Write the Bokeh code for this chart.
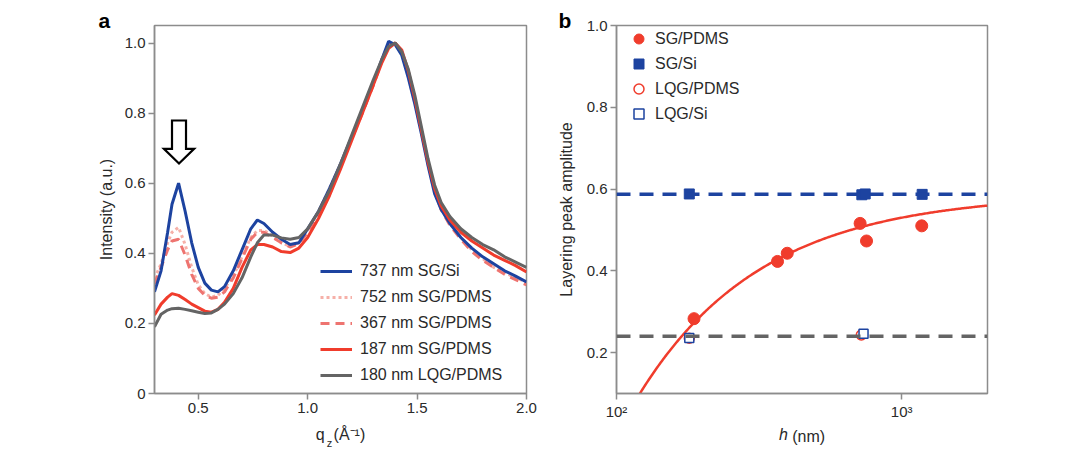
import numpy as np
from bokeh.plotting import figure
from bokeh.layouts import row
from bokeh.models import (Legend, LegendItem, Span, FixedTicker, NumeralTickFormatter, Title,
                          LinearAxis, Range1d, LinearScale)
from bokeh.embed import file_html
from bokeh.resources import INLINE

# ---------------- Panel a data ----------------
q = [0.30, 0.33, 0.36, 0.38, 0.41, 0.44, 0.47, 0.50, 0.53, 0.56, 0.59, 0.62, 0.66, 0.70,
     0.74, 0.77, 0.80, 0.84, 0.88, 0.92, 0.96, 1.00, 1.05, 1.10, 1.15, 1.20, 1.25, 1.30,
     1.34, 1.37, 1.40, 1.43, 1.46, 1.49, 1.52, 1.55, 1.58, 1.61, 1.65, 1.70, 1.75, 1.80,
     1.85, 1.90, 1.95, 2.00]

sg_si_737 = [0.29, 0.35, 0.46, 0.54, 0.60, 0.52, 0.43, 0.36, 0.315, 0.295, 0.29, 0.305, 0.35, 0.41,
             0.47, 0.495, 0.485, 0.46, 0.44, 0.425, 0.43, 0.47, 0.52, 0.585, 0.655, 0.73, 0.805, 0.885,
             0.955, 1.005, 0.995, 0.965, 0.90, 0.825, 0.74, 0.65, 0.57, 0.525, 0.485, 0.445, 0.415, 0.39,
             0.37, 0.35, 0.335, 0.318]

sg_pdms_752 = [0.328, 0.37, 0.43, 0.46, 0.474, 0.425, 0.36, 0.31, 0.285, 0.275, 0.28, 0.30, 0.335, 0.39,
               0.445, 0.465, 0.465, 0.45, 0.43, 0.42, 0.43, 0.465, 0.52, 0.585, 0.655, 0.73, 0.805, 0.885,
               0.955, 1.0, 1.0, 0.97, 0.905, 0.83, 0.745, 0.655, 0.575, 0.525, 0.485, 0.445, 0.41, 0.385,
               0.36, 0.345, 0.33, 0.318]

sg_pdms_367 = [0.313, 0.36, 0.41, 0.435, 0.44, 0.395, 0.34, 0.30, 0.28, 0.272, 0.275, 0.29, 0.33, 0.385,
               0.44, 0.46, 0.46, 0.445, 0.43, 0.418, 0.428, 0.46, 0.515, 0.58, 0.65, 0.725, 0.80, 0.88,
               0.95, 0.995, 1.0, 0.975, 0.91, 0.835, 0.75, 0.66, 0.58, 0.525, 0.48, 0.44, 0.405, 0.38,
               0.36, 0.34, 0.325, 0.31]

sg_pdms_187 = [0.224, 0.255, 0.275, 0.285, 0.28, 0.268, 0.255, 0.245, 0.235, 0.232, 0.24, 0.26, 0.30, 0.36,
               0.41, 0.425, 0.425, 0.418, 0.405, 0.402, 0.415, 0.445, 0.50, 0.565, 0.64, 0.72, 0.80, 0.88,
               0.945, 0.985, 1.0, 0.98, 0.92, 0.84, 0.75, 0.66, 0.585, 0.535, 0.495, 0.46, 0.435, 0.415,
               0.395, 0.38, 0.365, 0.347]

lqg_pdms_180 = [0.19, 0.226, 0.238, 0.242, 0.243, 0.24, 0.236, 0.232, 0.228, 0.23, 0.24, 0.255, 0.285, 0.33,
                0.39, 0.43, 0.452, 0.452, 0.444, 0.44, 0.445, 0.47, 0.52, 0.58, 0.655, 0.735, 0.815, 0.895,
                0.955, 0.99, 1.0, 0.975, 0.925, 0.85, 0.76, 0.67, 0.595, 0.545, 0.505, 0.47, 0.445, 0.425,
                0.41, 0.39, 0.375, 0.36]

series_labels = ["737 nm SG/Si", "752 nm SG/PDMS", "367 nm SG/PDMS", "187 nm SG/PDMS", "180 nm LQG/PDMS"]

# arrow marker (panel a)
arrow_q = 0.412
arrow_top, arrow_neck, arrow_tip = 0.779, 0.698, 0.656
arrow_shaft_hw, arrow_head_hw = 0.032, 0.069

# ---------------- Panel b data ----------------
h_sg_pdms = [187, 367, 397, 715, 753, 1176]
a_sg_pdms = [0.283, 0.423, 0.443, 0.516, 0.473, 0.510]
h_sg_si = [180, 725, 745, 1180]
a_sg_si = [0.588, 0.586, 0.588, 0.587]
h_lqg_pdms = [180, 722]
a_lqg_pdms = [0.235, 0.243]
h_lqg_si = [180, 735]
a_lqg_si = [0.236, 0.246]
si_level = 0.587
lqg_level = 0.240
# model fit for SG/PDMS: A(h) = A_inf * (1 - h_c / h)
fit_A_inf = 0.589
fit_h_c = 100.3

# ---------------- Styling ----------------
BLUE = "#1d43a0"
RED = "#f03c2c"
PINK_LIGHT = "#f6b0a8"
PINK = "#ee7470"
GRAY = "#646464"
AXIS = "#8c8c8c"
TXT = "#2a2a2a"
FONT = "Liberation Sans"
NB = "\u00a0"


def style(p):
    p.xgrid.visible = False
    p.ygrid.visible = False
    p.outline_line_color = AXIS
    p.outline_line_width = 1.5
    for ax in (p.xaxis[0], p.yaxis[0]):
        ax.axis_line_color = AXIS
        ax.axis_line_width = 1.5
        ax.major_tick_line_color = AXIS
        ax.major_tick_line_width = 1.5
        ax.major_tick_out = 6
        ax.major_tick_in = 0
        ax.minor_tick_line_color = None
        ax.major_label_text_font = FONT
        ax.major_label_text_font_size = "15px"
        ax.major_label_text_color = TXT
        ax.major_label_standoff = 3
        ax.axis_label_text_font = FONT
        ax.axis_label_text_font_size = "16px"
        ax.axis_label_text_font_style = "normal"
        ax.axis_label_text_color = TXT
    p.background_fill_color = "white"
    p.border_fill_color = "white"


def text_axis(p, pos, text, size, style_="normal", standoff=-9):
    """An axis with no line/ticks used only to place one piece of text below the frame."""
    ax = LinearAxis(x_range_name="px", ticker=FixedTicker(ticks=[pos]),
                    major_label_overrides={pos: text},
                    axis_line_color=None, major_tick_line_color=None, minor_tick_line_color=None,
                    major_tick_out=0, major_tick_in=0, major_label_standoff=standoff,
                    major_label_text_font=FONT, major_label_text_font_size=size,
                    major_label_text_font_style=style_, major_label_text_color=TXT)
    p.add_layout(ax, "below")


def panel_letter(p, letter, offset):
    p.add_layout(Title(text=letter, align="left", offset=offset, standoff=-12,
                       text_font=FONT, text_font_size="21px", text_font_style="bold",
                       text_color="black"), "above")


# ---------------- Panel a ----------------
p1 = figure(width=540, height=453, x_range=(0.3, 2.0), y_range=(0.0, 1.05),
            output_backend="svg", toolbar_location=None,
            min_border_left=154, min_border_right=14, min_border_top=25, min_border_bottom=57)
style(p1)
p1.extra_x_ranges = {"px": Range1d(0, 372)}
p1.extra_x_scales = {"px": LinearScale()}
p1.xaxis.ticker = FixedTicker(ticks=[0.5, 1.0, 1.5, 2.0])
p1.xaxis.formatter = NumeralTickFormatter(format="0.0")
p1.xaxis.axis_label = "q" + NB + NB + "(Å⁻¹)"
p1.xaxis.axis_label_standoff = 10
p1.yaxis.ticker = FixedTicker(ticks=[0.0, 0.2, 0.4, 0.6, 0.8, 1.0])
p1.yaxis.formatter = NumeralTickFormatter(format="0.0")
p1.yaxis.major_label_overrides = {0: "0"}
p1.yaxis.axis_label = "Intensity (a.u.)"
p1.yaxis.axis_label_standoff = 7

r752 = p1.line(q, sg_pdms_752, line_color=PINK_LIGHT, line_width=3, line_dash="3 3")
r367 = p1.line(q, sg_pdms_367, line_color=PINK, line_width=3, line_dash="9 6")
r737 = p1.line(q, sg_si_737, line_color=BLUE, line_width=3)
r187 = p1.line(q, sg_pdms_187, line_color=RED, line_width=3)
r180 = p1.line(q, lqg_pdms_180, line_color=GRAY, line_width=3)

ax_ = [arrow_q - arrow_shaft_hw, arrow_q + arrow_shaft_hw, arrow_q + arrow_shaft_hw,
       arrow_q + arrow_head_hw, arrow_q, arrow_q - arrow_head_hw, arrow_q - arrow_shaft_hw]
ay_ = [arrow_top, arrow_top, arrow_neck, arrow_neck, arrow_tip, arrow_neck, arrow_neck]
p1.patch(ax_, ay_, fill_color="white", line_color="black", line_width=2.2, line_join="miter")

leg1 = Legend(items=[LegendItem(label=series_labels[0], renderers=[r737]),
                     LegendItem(label=series_labels[1], renderers=[r752]),
                     LegendItem(label=series_labels[2], renderers=[r367]),
                     LegendItem(label=series_labels[3], renderers=[r187]),
                     LegendItem(label=series_labels[4], renderers=[r180])],
              location=(166, 8), padding=0, margin=0, spacing=6,
              glyph_width=32, glyph_height=20, label_height=20, label_standoff=8,
              background_fill_alpha=0, border_line_color=None,
              label_text_font=FONT, label_text_font_size="16px", label_text_color=TXT)
p1.add_layout(leg1)

text_axis(p1, 175, "z", "11px", standoff=-9)
panel_letter(p1, "a", -56)

# ---------------- Panel b ----------------
p2 = figure(width=539, height=453, x_axis_type="log", x_range=(100, 2000), y_range=(0.1, 1.0),
            output_backend="svg", toolbar_location=None,
            min_border_left=76, min_border_right=92, min_border_top=23, min_border_bottom=60)
style(p2)
p2.extra_x_ranges = {"px": Range1d(0, 371)}
p2.extra_x_scales = {"px": LinearScale()}
p2.xaxis.ticker = FixedTicker(ticks=[100, 1000])
p2.xaxis.major_label_overrides = {100: "10²", 1000: "10³"}
p2.xaxis.axis_label = NB + NB + NB + "(nm)"
p2.xaxis.axis_label_standoff = 5
p2.yaxis.ticker = FixedTicker(ticks=[0.2, 0.4, 0.6, 0.8, 1.0])
p2.yaxis.formatter = NumeralTickFormatter(format="0.0")
p2.yaxis.axis_label = "Layering peak amplitude"
p2.yaxis.axis_label_standoff = 9

p2.add_layout(Span(location=si_level, dimension="width", line_color=BLUE, line_width=3.5, line_dash="14 9"))
p2.add_layout(Span(location=lqg_level, dimension="width", line_color=GRAY, line_width=3.5, line_dash="14 9"))

h_fit = np.geomspace(110, 2000, 300)
a_fit = fit_A_inf * (1 - fit_h_c / h_fit)
p2.line(h_fit, a_fit, line_color=RED, line_width=2.5)

s1 = p2.scatter(h_sg_pdms, a_sg_pdms, marker="circle", size=12, fill_color=RED, line_color=RED)
s2 = p2.scatter(h_sg_si, a_sg_si, marker="square", size=10, fill_color=BLUE, line_color=BLUE)
s3 = p2.scatter(h_lqg_pdms, a_lqg_pdms, marker="circle", size=10, fill_color="white",
                line_color=RED, line_width=1.5)
s4 = p2.scatter(h_lqg_si, a_lqg_si, marker="square", size=9, fill_color="white",
                line_color=BLUE, line_width=1.5)

leg2 = Legend(items=[LegendItem(label="SG/PDMS", renderers=[s1]),
                     LegendItem(label="SG/Si", renderers=[s2]),
                     LegendItem(label="LQG/PDMS", renderers=[s3]),
                     LegendItem(label="LQG/Si", renderers=[s4])],
              location=(8, 267), padding=0, margin=0, spacing=0,
              glyph_width=29, glyph_height=25, label_height=20, label_standoff=2,
              background_fill_alpha=0, border_line_color=None,
              label_text_font=FONT, label_text_font_size="16px", label_text_color=TXT)
p2.add_layout(leg2)

text_axis(p2, 167, "h", "16px", style_="italic", standoff=-22)
panel_letter(p2, "b", -58)

layout = row(p1, p2)
open("out.html", "w").write(file_html(layout, INLINE))
